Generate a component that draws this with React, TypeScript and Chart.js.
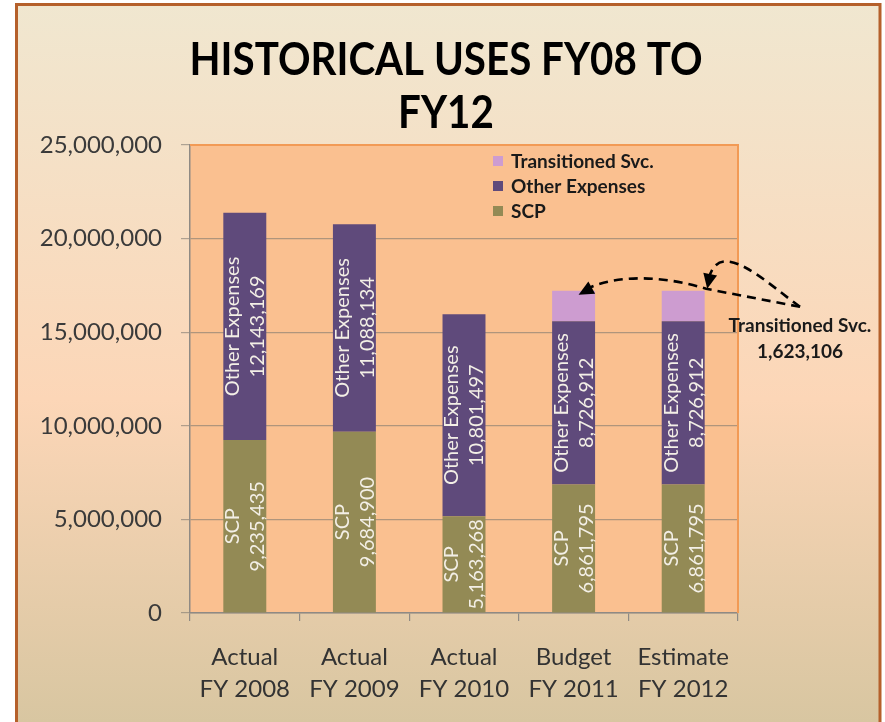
import React, { useEffect, useRef } from 'react';
import { Chart, registerables } from 'chart.js';

Chart.register(...registerables);

const categories = [
  ['Actual', 'FY 2008'],
  ['Actual', 'FY 2009'],
  ['Actual', 'FY 2010'],
  ['Budget', 'FY 2011'],
  ['Estimate', 'FY 2012'],
];
const scpValues = [9235435, 9684900, 5163268, 6861795, 6861795];
const otherValues = [12143169, 11088134, 10801497, 8726912, 8726912];
const transitionedValues = [0, 0, 0, 1623106, 1623106];
const yTicks = [0, 5000000, 10000000, 15000000, 20000000, 25000000];
const seriesNames = ['SCP', 'Other Expenses', 'Transitioned Svc.'];
const seriesColors = ['#938A55', '#5F4A7B', '#CD9CD0'];
const titleLines = ['HISTORICAL USES FY08 TO', 'FY12'];

const FONT = 'Lato, "Open Sans", "DejaVu Sans", sans-serif';
const fmt = (v: number) => Number(v).toLocaleString('en-US');

function drawArrowHead(ctx: CanvasRenderingContext2D, tip: { x: number; y: number }, from: { x: number; y: number }) {
  const ang = Math.atan2(tip.y - from.y, tip.x - from.x);
  const len = 15;
  const half = 7;
  ctx.save();
  ctx.setLineDash([]);
  ctx.translate(tip.x, tip.y);
  ctx.rotate(ang);
  ctx.beginPath();
  ctx.moveTo(0, 0);
  ctx.lineTo(-len, -half);
  ctx.lineTo(-len, half);
  ctx.closePath();
  ctx.fillStyle = '#000';
  ctx.fill();
  ctx.restore();
}

const decorPlugin = {
  id: 'decor',
  beforeDraw(chart: any) {
    const { ctx, width, height, chartArea: a } = chart;
    ctx.save();
    ctx.fillStyle = '#ffffff';
    ctx.fillRect(0, 0, width, height);
    const g = ctx.createLinearGradient(0, 4, 0, height);
    g.addColorStop(0, '#F0E7D0');
    g.addColorStop(0.55, '#FCD6B7');
    g.addColorStop(1, '#D8C6A1');
    ctx.fillStyle = g;
    ctx.fillRect(16, 4, 864, height);
    ctx.strokeStyle = '#B5602B';
    ctx.lineWidth = 3;
    ctx.strokeRect(16.5, 4.5, 863.5, height + 20);
    ctx.fillStyle = '#FAC090';
    ctx.fillRect(a.left, a.top, a.right - a.left, a.bottom - a.top);
    ctx.restore();
  },
  afterDatasetsDraw(chart: any) {
    const { ctx } = chart;
    [0, 1].forEach((di) => {
      const ds = chart.data.datasets[di];
      const meta = chart.getDatasetMeta(di);
      meta.data.forEach((el: any, j: number) => {
        const v = ds.data[j];
        if (!v) return;
        const cy = (el.y + el.base) / 2;
        ctx.save();
        ctx.translate(el.x, cy);
        ctx.rotate(-Math.PI / 2);
        ctx.font = `20px ${FONT}`;
        ctx.fillStyle = '#F3EFE6';
        ctx.textAlign = 'center';
        ctx.textBaseline = 'middle';
        ctx.fillText(ds.label, 0, -12);
        ctx.fillText(fmt(v), 0, 13);
        ctx.restore();
      });
    });
  },
  afterDraw(chart: any) {
    const { ctx, chartArea: a } = chart;
    ctx.save();
    // plot border top/right
    ctx.strokeStyle = '#F29A55';
    ctx.lineWidth = 2;
    ctx.beginPath();
    ctx.moveTo(a.left, a.top);
    ctx.lineTo(a.right, a.top);
    ctx.lineTo(a.right, a.bottom);
    ctx.stroke();

    // title
    ctx.fillStyle = '#000';
    ctx.font = `bold 46px ${FONT}`;
    const w = ctx.measureText(titleLines[0]).width;
    const sx = 513 / w;
    ctx.save();
    ctx.translate(446, 0);
    ctx.scale(sx, 1);
    ctx.textAlign = 'center';
    ctx.textBaseline = 'alphabetic';
    ctx.fillText(titleLines[0], 0, 75);
    ctx.fillText(titleLines[1], 0, 128);
    ctx.restore();

    // legend (reverse order)
    const lx = a.left + 303;
    const ly0 = a.top + 16;
    [2, 1, 0].forEach((di, k) => {
      const ds = chart.data.datasets[di];
      const cy = ly0 + k * 25;
      ctx.fillStyle = ds.backgroundColor;
      ctx.fillRect(lx, cy - 5, 10, 10);
      ctx.fillStyle = '#1a1a1a';
      ctx.font = `bold 19px ${FONT}`;
      ctx.textAlign = 'left';
      ctx.textBaseline = 'middle';
      ctx.fillText(ds.label, lx + 18, cy + 1);
    });

    // annotation for transitioned service
    const tds = chart.data.datasets[2];
    const meta2 = chart.getDatasetMeta(2);
    const e4 = meta2.data[3];
    const e5 = meta2.data[4];
    const topY = e5.y;
    const S = { x: a.right + 62, y: topY + 16 };
    ctx.fillStyle = '#1a1a1a';
    ctx.font = `bold 19px ${FONT}`;
    ctx.textAlign = 'center';
    ctx.textBaseline = 'alphabetic';
    ctx.fillText(tds.label, S.x, topY + 41);
    ctx.fillText(fmt(tds.data[4]), S.x, topY + 67);

    ctx.strokeStyle = '#000';
    ctx.lineWidth = 2.6;
    ctx.setLineDash([9, 6]);
    // lower path to bar 4
    const p5 = { x: e5.x + 23, y: topY - 2 };
    const cp1 = { x: e5.x - 15, y: topY - 14 };
    const cp2 = { x: e4.x + 45, y: topY - 18 };
    const end4 = { x: e4.x + 5, y: topY + 4 };
    ctx.beginPath();
    ctx.moveTo(S.x, S.y);
    ctx.lineTo(p5.x, p5.y);
    ctx.bezierCurveTo(cp1.x, cp1.y, cp2.x, cp2.y, end4.x + 6, end4.y - 5);
    ctx.stroke();
    drawArrowHead(ctx, end4, cp2);
    // upper loop to bar 5
    const lc1 = { x: S.x - 35, y: S.y - 25 };
    const lc2 = { x: e5.x + 35, y: topY - 56 };
    const end5 = { x: e5.x + 24, y: topY - 2 };
    ctx.beginPath();
    ctx.moveTo(S.x, S.y);
    ctx.bezierCurveTo(lc1.x, lc1.y, lc2.x, lc2.y, end5.x + 1, end5.y - 8);
    ctx.stroke();
    drawArrowHead(ctx, end5, lc2);
    ctx.restore();
  },
};

export default function App() {
  const ref = useRef<HTMLCanvasElement>(null);
  useEffect(() => {
    document.body.style.margin = '0';
    const gridColor = 'rgba(125,120,112,0.6)';
    const axisColor = '#8F8A84';
    const chart = new Chart(ref.current as HTMLCanvasElement, {
      type: 'bar',
      data: {
        labels: categories as any,
        datasets: [
          { label: seriesNames[0], data: scpValues, backgroundColor: seriesColors[0], borderWidth: 0 },
          { label: seriesNames[1], data: otherValues, backgroundColor: seriesColors[1], borderWidth: 0 },
          { label: seriesNames[2], data: transitionedValues, backgroundColor: seriesColors[2], borderWidth: 0 },
        ],
      },
      options: {
        responsive: false,
        animation: false,
        devicePixelRatio: 1,
        datasets: { bar: { categoryPercentage: 1, barPercentage: 0.392 } },
        layout: { padding: { left: 20, right: 147, top: 145, bottom: 0 } },
        plugins: {
          legend: { display: false },
          title: { display: false },
          tooltip: { enabled: false },
        },
        scales: {
          x: {
            stacked: true,
            grid: { offset: true, drawOnChartArea: false, tickLength: 8, color: axisColor, lineWidth: 1.2 },
            border: { color: axisColor, width: 1.5 },
            ticks: {
              font: { family: FONT, size: 24, lineHeight: 1.3 },
              color: '#333333',
              padding: 21,
              maxRotation: 0,
              autoSkip: false,
            },
            afterFit(s: any) {
              s.height = 109;
            },
          },
          y: {
            stacked: true,
            min: 0,
            max: 25000000,
            afterBuildTicks(s: any) {
              s.ticks = yTicks.map((v) => ({ value: v }));
            },
            grid: { color: gridColor, tickLength: 9, lineWidth: 1.2 },
            border: { color: axisColor, width: 1.5 },
            ticks: {
              callback: (v: any) => fmt(v),
              font: { family: FONT, size: 24 },
              color: '#3a3a3a',
              padding: 19,
            },
            afterFit(s: any) {
              s.width = 170;
            },
          },
        },
      } as any,
      plugins: [decorPlugin as any],
    });
    return () => chart.destroy();
  }, []);
  return (
    <div style={{ width: 885, height: 722 }}>
      <canvas ref={ref} width={885} height={722} style={{ display: 'block', width: 885, height: 722 }} />
    </div>
  );
}
